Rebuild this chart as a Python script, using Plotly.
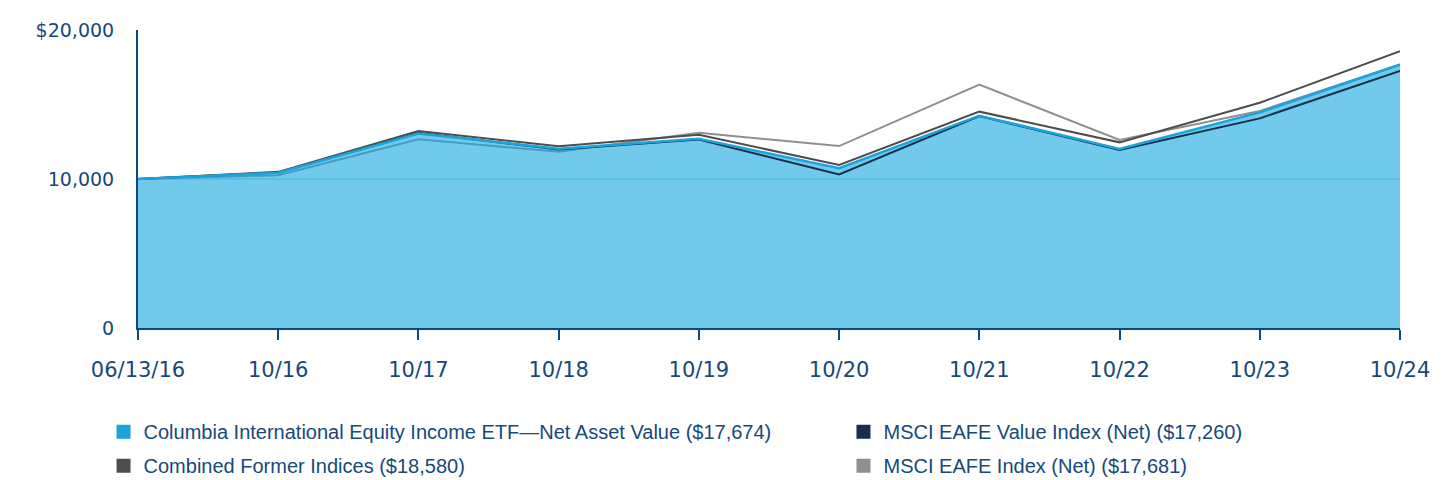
import plotly.graph_objects as go

categories = ["06/13/16", "10/16", "10/17", "10/18", "10/19", "10/20", "10/21", "10/22", "10/23", "10/24"]
fund_nav = [10000, 10420, 13050, 12030, 12700, 10720, 14250, 12010, 14470, 17674]
msci_eafe_value = [10000, 10430, 13100, 11980, 12650, 10310, 14220, 11950, 14070, 17260]
combined_former = [10000, 10480, 13220, 12200, 12970, 10940, 14520, 12460, 15120, 18580]
msci_eafe = [10000, 10250, 12660, 11830, 13110, 12210, 16330, 12620, 14560, 17681]

names = [
    "Columbia International Equity Income ETF\u2014Net Asset Value ($17,674)",
    "MSCI EAFE Value Index (Net) ($17,260)",
    "Combined Former Indices ($18,580)",
    "MSCI EAFE Index (Net) ($17,681)",
]
colors = ["#1BA3DC", "#14304D", "#4D4D4D", "#8F8F8F"]
legend_ids = ["legend", "legend2", "legend", "legend2"]
TEXT = "#16497A"
AXIS = "#0D4A7A"

fig = go.Figure()

# gray line under the fill
fig.add_trace(go.Scatter(x=categories, y=msci_eafe, mode="lines",
                         line=dict(color=colors[3], width=2), showlegend=False, hoverinfo="skip"))
# fund area
fig.add_trace(go.Scatter(x=categories, y=fund_nav, mode="lines", fill="tozeroy",
                         fillcolor="rgba(18,167,223,0.6)",
                         line=dict(color=colors[0], width=0), showlegend=False, hoverinfo="skip"))
fig.add_trace(go.Scatter(x=categories, y=msci_eafe_value, mode="lines",
                         line=dict(color=colors[1], width=2), showlegend=False, hoverinfo="skip"))
fig.add_trace(go.Scatter(x=categories, y=combined_former, mode="lines",
                         line=dict(color=colors[2], width=2), showlegend=False, hoverinfo="skip"))
fig.add_trace(go.Scatter(x=categories, y=fund_nav, mode="lines",
                         line=dict(color=colors[0], width=2.5), showlegend=False, hoverinfo="skip"))

# legend entries (square swatches)
for i, (n, c, lg) in enumerate(zip(names, colors, legend_ids)):
    fig.add_trace(go.Scatter(x=[None], y=[None], mode="markers", name=n,
                             marker=dict(symbol="square", size=14, color=c),
                             legend=lg, legendgroup=f"g{i}"))

legend_common = dict(orientation="v", xanchor="left", yanchor="top",
                     xref="container", yref="container", y=0.158,
                     font=dict(family="Liberation Sans", size=20, color=TEXT),
                     traceorder="grouped", itemwidth=30, tracegroupgap=5,
                     bgcolor="rgba(0,0,0,0)")

fig.update_layout(
    width=1452, height=480,
    margin=dict(l=130, r=60, t=22, b=160, autoexpand=False),
    paper_bgcolor="white", plot_bgcolor="white",
    font=dict(family="DejaVu Sans", color=TEXT, size=18),
    showlegend=True,
    legend=dict(x=0.0658, **legend_common),
    legend2=dict(x=0.5754, **legend_common),
    xaxis=dict(type="category", range=[0, 9], showgrid=False,
               showline=True, linecolor=AXIS, linewidth=2,
               ticks="outside", ticklen=10, tickwidth=2, tickcolor=AXIS,
               tickfont=dict(family="DejaVu Sans", size=21, color=TEXT),
               ticklabelstandoff=12, zeroline=False),
    yaxis=dict(range=[0, 20000], tickvals=[0, 10000, 20000],
               ticktext=["0", "10,000", "$20,000"],
               showgrid=True, gridcolor="#BEE5F5", gridwidth=2,
               showline=True, linecolor=AXIS, linewidth=2,
               ticks="", ticklabelstandoff=18, zeroline=False,
               tickfont=dict(family="DejaVu Sans", size=19, color=TEXT)),
)

fig.write_html("out.html")
